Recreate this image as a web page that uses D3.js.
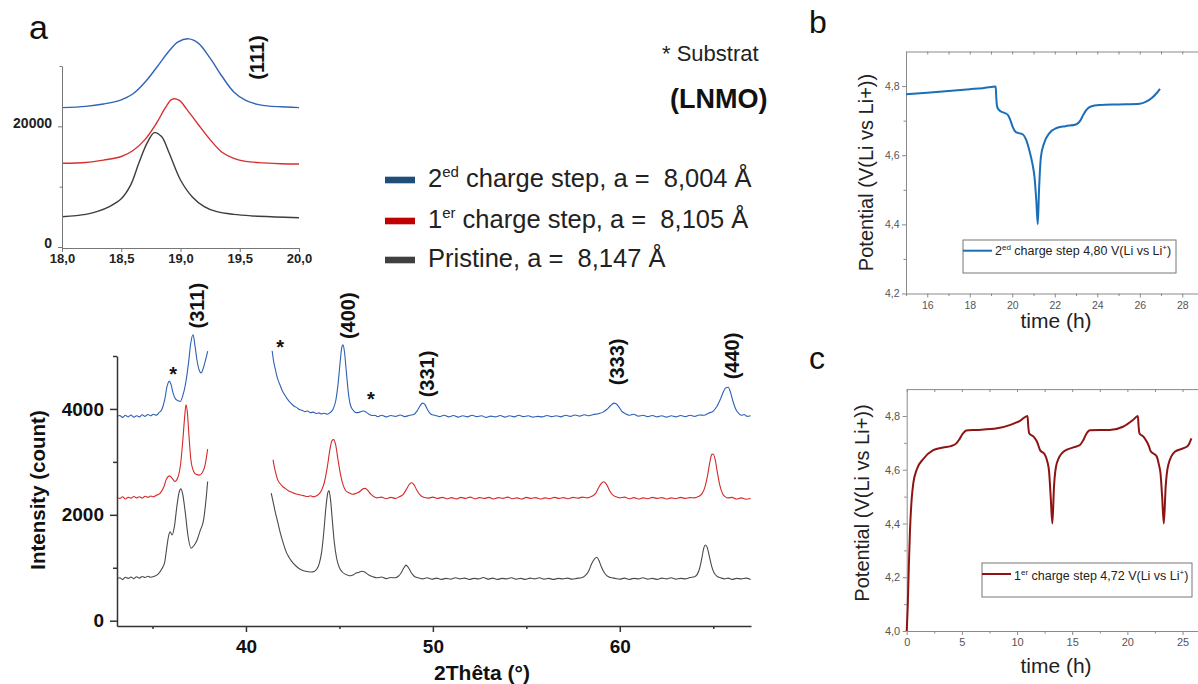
<!DOCTYPE html>
<html><head><meta charset="utf-8">
<script src="https://cdn.jsdelivr.net/npm/d3@7/dist/d3.min.js"></script>
<style>
html,body{margin:0;padding:0;background:#fff;}
svg{display:block;}
text{font-family:"Liberation Sans",Arial,Helvetica,sans-serif;}
</style></head><body>
<svg id="fig" width="1198" height="684"></svg>
<script>
// ================= DATA =================
// Inset (111) peak : [2theta, intensity]
const insetBlue = [[18.0,23100],[18.2,23300],[18.35,23700],[18.5,24400],[18.6,25400],[18.7,27300],[18.8,29800],[18.9,32400],[18.98,34000],[19.07,34500],[19.15,33800],[19.25,31300],[19.35,28300],[19.45,25700],[19.55,24300],[19.65,23650],[19.75,23350],[19.9,23200],[20.0,23100]];
const insetRed = [[18.0,13880],[18.2,14000],[18.35,14400],[18.5,15000],[18.6,16000],[18.7,17800],[18.8,20600],[18.87,23000],[18.93,24500],[18.99,24300],[19.05,22900],[19.15,20300],[19.25,17800],[19.35,15700],[19.45,14700],[19.55,14200],[19.7,13950],[19.85,13800],[20.0,13760]];
const insetBlack = [[18.0,5020],[18.2,5400],[18.3,5900],[18.4,6700],[18.5,8000],[18.58,10300],[18.65,14000],[18.72,17300],[18.78,18950],[18.84,18300],[18.9,15800],[19.0,11100],[19.1,8300],[19.2,6700],[19.3,5900],[19.45,5400],[19.6,5150],[19.8,4980],[20.0,4860]];

// Main pattern, left segment (before gap) and right segment
const blueL = [[33.1,3850],[33.25,3875],[33.4,3840],[33.55,3880],[33.7,3850],[33.85,3885],[34.0,3845],[34.15,3870],[34.3,3850],[34.45,3890],[34.6,3860],[34.75,3895],[34.9,3870],[35.05,3900],[35.2,3880],[35.35,3930],[35.5,3990],[35.65,4170],[35.78,4430],[35.9,4520],[36.0,4450],[36.1,4300],[36.25,4180],[36.35,4160],[36.48,4140],[36.62,4250],[36.78,4500],[36.92,4850],[37.05,5250],[37.17,5400],[37.27,5200],[37.38,4920],[37.5,4730],[37.6,4680],[37.7,4750],[37.82,4900],[37.95,5090]];
const blueR = [[41.4,5100],[41.48,4900],[41.57,4750],[41.66,4610],[41.8,4470],[41.95,4340],[42.1,4250],[42.25,4170],[42.4,4110],[42.55,4060],[42.7,4030],[42.85,3990],[43.0,3975],[43.15,3950],[43.3,3960],[43.45,3930],[43.6,3940],[43.75,3915],[43.9,3925],[44.05,3905],[44.2,3920],[44.35,3900],[44.5,3930],[44.65,3990],[44.8,4150],[44.92,4450],[45.03,4850],[45.12,5150],[45.19,5210],[45.27,5080],[45.37,4700],[45.48,4300],[45.6,4060],[45.75,3970],[45.9,3930],[46.05,3935],[46.2,3955],[46.3,3960],[46.45,3935],[46.6,3895],[46.75,3875],[46.9,3880],[47.05,3855],[47.25,3880],[47.5,3850],[47.75,3875],[48.0,3860],[48.25,3885],[48.5,3855],[48.75,3880],[49.0,3900],[49.15,3960],[49.3,4050],[49.45,4110],[49.58,4080],[49.72,3980],[49.9,3900],[50.1,3880],[50.35,3855],[50.6,3880],[50.85,3850],[51.1,3875],[51.35,3845],[51.6,3870],[51.85,3850],[52.1,3880],[52.35,3855],[52.6,3870],[52.85,3840],[53.1,3865],[53.35,3850],[53.6,3875],[53.85,3845],[54.1,3870],[54.35,3850],[54.6,3880],[54.85,3855],[55.1,3870],[55.35,3845],[55.6,3860],[55.85,3850],[56.1,3875],[56.35,3855],[56.6,3870],[56.85,3850],[57.1,3880],[57.35,3860],[57.6,3885],[57.85,3865],[58.1,3890],[58.35,3870],[58.6,3895],[58.85,3910],[59.1,3940],[59.3,3990],[59.5,4060],[59.68,4110],[59.8,4100],[59.95,4040],[60.1,3960],[60.3,3910],[60.5,3880],[60.75,3900],[61.0,3865],[61.25,3880],[61.5,3855],[61.75,3875],[62.0,3850],[62.25,3870],[62.5,3845],[62.75,3870],[63.0,3850],[63.25,3875],[63.5,3855],[63.75,3880],[64.0,3860],[64.25,3885],[64.5,3880],[64.75,3920],[65.0,3960],[65.2,4050],[65.4,4200],[65.55,4330],[65.68,4400],[65.8,4410],[65.92,4320],[66.05,4150],[66.2,4000],[66.35,3920],[66.5,3880],[66.65,3895],[66.8,3860],[67.0,3870]];

const redL = [[33.1,2330],[33.25,2310],[33.4,2340],[33.55,2300],[33.7,2330],[33.85,2315],[34.0,2345],[34.15,2320],[34.3,2340],[34.45,2315],[34.6,2350],[34.75,2330],[34.9,2355],[35.05,2340],[35.2,2370],[35.35,2390],[35.45,2430],[35.6,2520],[35.75,2680],[35.92,2735],[36.05,2690],[36.2,2630],[36.35,2700],[36.5,2950],[36.62,3400],[36.72,3850],[36.79,4080],[36.86,3950],[36.95,3500],[37.05,3050],[37.2,2820],[37.35,2760],[37.5,2750],[37.65,2790],[37.8,2920],[37.95,3240]];
const redR = [[41.45,3040],[41.52,2900],[41.6,2780],[41.7,2660],[41.8,2600],[41.95,2540],[42.1,2500],[42.25,2460],[42.4,2435],[42.55,2410],[42.7,2395],[42.85,2380],[43.0,2370],[43.15,2355],[43.3,2345],[43.45,2360],[43.6,2340],[43.75,2355],[43.9,2390],[44.05,2470],[44.2,2620],[44.35,2900],[44.5,3250],[44.6,3400],[44.69,3420],[44.8,3320],[44.92,3050],[45.05,2780],[45.2,2560],[45.35,2450],[45.55,2410],[45.7,2390],[45.85,2400],[46.0,2420],[46.15,2460],[46.28,2495],[46.38,2500],[46.52,2460],[46.68,2390],[46.85,2340],[47.0,2320],[47.25,2335],[47.5,2305],[47.75,2330],[48.0,2310],[48.2,2340],[48.4,2380],[48.58,2480],[48.75,2580],[48.88,2605],[49.0,2560],[49.15,2460],[49.3,2380],[49.5,2330],[49.75,2315],[50.0,2335],[50.25,2310],[50.5,2330],[50.75,2305],[51.0,2325],[51.25,2300],[51.5,2330],[51.75,2310],[52.0,2335],[52.25,2305],[52.5,2325],[52.75,2310],[53.0,2330],[53.25,2300],[53.5,2325],[53.75,2310],[54.0,2335],[54.25,2305],[54.5,2320],[54.75,2300],[55.0,2330],[55.25,2310],[55.5,2325],[55.75,2300],[56.0,2320],[56.25,2305],[56.5,2330],[56.75,2310],[57.0,2325],[57.25,2305],[57.5,2330],[57.75,2315],[58.0,2335],[58.25,2320],[58.5,2350],[58.7,2400],[58.85,2500],[59.0,2590],[59.15,2625],[59.3,2570],[59.45,2460],[59.6,2380],[59.8,2340],[60.0,2320],[60.25,2335],[60.5,2305],[60.75,2325],[61.0,2300],[61.25,2320],[61.5,2305],[61.75,2330],[62.0,2310],[62.25,2325],[62.5,2300],[62.75,2320],[63.0,2305],[63.25,2330],[63.5,2310],[63.75,2325],[64.0,2320],[64.2,2345],[64.4,2400],[64.55,2520],[64.7,2750],[64.82,3000],[64.92,3140],[65.0,3150],[65.1,3050],[65.22,2800],[65.35,2560],[65.5,2400],[65.65,2340],[65.8,2320],[66.0,2330],[66.25,2300],[66.5,2320],[66.75,2295],[67.0,2310]];

const blackL = [[33.1,790],[33.25,810],[33.4,780],[33.55,820],[33.7,800],[33.85,825],[34.0,795],[34.15,830],[34.3,805],[34.45,835],[34.6,815],[34.75,840],[34.9,820],[35.1,840],[35.3,880],[35.5,980],[35.65,1100],[35.77,1400],[35.86,1600],[35.94,1680],[36.05,1620],[36.18,1800],[36.3,2150],[36.42,2420],[36.52,2490],[36.62,2380],[36.75,2050],[36.9,1600],[37.06,1370],[37.22,1420],[37.38,1520],[37.55,1700],[37.74,1920],[37.88,2350],[37.95,2630]];
const blackR = [[41.35,2410],[41.45,2250],[41.55,2080],[41.7,1860],[41.85,1640],[42.0,1460],[42.15,1300],[42.3,1200],[42.45,1120],[42.6,1060],[42.75,1010],[42.9,970],[43.05,950],[43.2,935],[43.35,925],[43.5,920],[43.65,930],[43.8,980],[43.92,1080],[44.05,1300],[44.17,1700],[44.28,2150],[44.38,2420],[44.44,2460],[44.52,2300],[44.62,1900],[44.72,1500],[44.85,1180],[45.0,1000],[45.15,920],[45.3,880],[45.45,860],[45.6,850],[45.75,870],[45.9,900],[46.05,915],[46.2,935],[46.35,920],[46.5,880],[46.65,850],[46.8,830],[47.0,810],[47.25,825],[47.5,795],[47.75,815],[48.0,810],[48.15,840],[48.3,900],[48.45,1000],[48.56,1050],[48.68,1010],[48.82,920],[49.0,840],[49.2,810],[49.45,790],[49.7,810],[49.95,785],[50.2,805],[50.45,780],[50.7,800],[50.95,785],[51.2,810],[51.45,790],[51.7,805],[51.95,780],[52.2,800],[52.45,790],[52.7,815],[52.95,785],[53.2,805],[53.45,780],[53.7,800],[53.95,790],[54.2,810],[54.45,785],[54.7,800],[54.95,780],[55.2,805],[55.45,790],[55.7,810],[55.95,785],[56.2,800],[56.45,780],[56.7,800],[56.95,790],[57.2,805],[57.45,785],[57.7,800],[57.95,810],[58.15,850],[58.35,950],[58.5,1080],[58.65,1170],[58.77,1200],[58.88,1140],[59.0,1030],[59.15,920],[59.3,850],[59.5,815],[59.75,800],[60.0,785],[60.25,805],[60.5,780],[60.75,800],[61.0,790],[61.25,810],[61.5,785],[61.75,800],[62.0,780],[62.25,805],[62.5,790],[62.75,810],[63.0,785],[63.25,800],[63.5,790],[63.75,815],[64.0,830],[64.15,880],[64.28,1000],[64.4,1200],[64.5,1380],[64.58,1430],[64.68,1380],[64.8,1200],[64.92,1020],[65.05,900],[65.2,840],[65.4,810],[65.6,790],[65.8,805],[66.0,780],[66.25,800],[66.5,790],[66.75,805],[67.0,780]];

// Tick values / labels
const mainXTicks = [40, 50, 60];
const mainXMinor = [35, 45, 55, 65];
const mainYTicks = [0, 2000, 4000];
const mainYMinor = [1000, 3000, 5000];
const insetXTicks = [18, 18.5, 19, 19.5, 20];
const insetXLabels = ["18,0", "18,5", "19,0", "19,5", "20,0"];
const insetYTicks = [0, 20000];
const insetYMinor = [10000, 30000];

// Peak annotations (hkl) anchored in data units [2theta, intensity]
const hklLabels = ["(311)", "(400)", "(331)", "(333)", "(440)"];
const hklAnchors = [[37.42, 5950], [45.52, 5760], [49.75, 4660], [59.9, 4890], [66.08, 5000]];
const starAnchors = [[36.1, 4736], [41.83, 5251], [46.68, 4263]];

// Legend of panel a
const legendSeries = [
  {base: "2", sup: "ed", rest: " charge step, a =\u00a0\u00a08,004 Å", color: "#1f4e79"},
  {base: "1", sup: "er", rest: " charge step, a =\u00a0\u00a08,105 Å", color: "#c00000"},
  {base: "Pristine, a =\u00a0\u00a08,147 Å", sup: "", rest: "", color: "#404040"}
];

// Panel b : 2nd charge step, [time h, potential V]
const bData = [[15,4.776],[16,4.781],[17,4.786],[18,4.791],[18.6,4.794],[19.0,4.797],[19.22,4.799],[19.25,4.765],[19.3,4.738],[19.45,4.727],[19.65,4.722],[19.8,4.716],[19.92,4.700],[20.02,4.682],[20.15,4.668],[20.3,4.664],[20.5,4.660],[20.65,4.645],[20.8,4.615],[20.95,4.575],[21.05,4.535],[21.13,4.47],[21.2,4.4],[21.26,4.5],[21.35,4.596],[21.5,4.635],[21.75,4.664],[22.06,4.678],[22.5,4.684],[23.0,4.689],[23.2,4.700],[23.35,4.718],[23.5,4.732],[23.7,4.741],[24.1,4.745],[25.0,4.747],[26.0,4.749],[26.3,4.755],[26.55,4.765],[26.8,4.780],[26.95,4.792]];
const bXTicks = [16, 18, 20, 22, 24, 26, 28];
const bXMinor = [15, 17, 19, 21, 23, 25, 27];
const bYTicks = [4.2, 4.4, 4.6, 4.8];
const bYMinor = [4.3, 4.5, 4.7];

// Panel c : 1st charge step
const cData = [[0,4.0],[0.1,4.1],[0.2,4.25],[0.3,4.376],[0.45,4.49],[0.6,4.55],[0.9,4.6],[1.5,4.64],[2.4,4.673],[3.3,4.683],[4.0,4.688],[4.5,4.698],[4.8,4.715],[5.1,4.735],[5.4,4.746],[6.3,4.748],[8.2,4.754],[9.4,4.767],[10.3,4.783],[10.95,4.8],[11.02,4.76],[11.1,4.736],[11.5,4.723],[11.8,4.705],[11.95,4.688],[12.1,4.672],[12.5,4.658],[12.75,4.63],[12.9,4.595],[13.05,4.5],[13.2,4.4],[13.35,4.537],[13.6,4.624],[14.2,4.667],[15.1,4.683],[15.7,4.692],[16.0,4.71],[16.3,4.735],[16.6,4.747],[18.4,4.748],[19.6,4.76],[20.5,4.785],[20.95,4.8],[21.02,4.76],[21.1,4.735],[21.45,4.723],[21.75,4.705],[21.95,4.688],[22.1,4.67],[22.65,4.65],[22.85,4.62],[23.0,4.587],[23.15,4.5],[23.3,4.4],[23.47,4.537],[23.7,4.617],[24.3,4.667],[25.1,4.68],[25.5,4.69],[25.8,4.717]];
const cXTicks = [0, 5, 10, 15, 20, 25];
const cXMinor = [2.5, 7.5, 12.5, 17.5, 22.5];
const cYTicks = [4.0, 4.2, 4.4, 4.6, 4.8];
const cYMinor = [4.1, 4.3, 4.5, 4.7];

// ================= DRAWING =================
const FONT = '"Liberation Sans", Arial, sans-serif';
const svg = d3.select('#fig');
svg.append('rect').attr('width', 1198).attr('height', 684).attr('fill', '#fff');
const comma = d => d.toFixed(1).replace('.', ',');

function styleAxis(g, stroke, sw, fs, weight, fill) {
  g.attr('font-family', FONT);
  g.selectAll('path.domain').attr('stroke', stroke).attr('stroke-width', sw);
  g.selectAll('.tick line').attr('stroke', stroke).attr('stroke-width', sw);
  g.selectAll('.tick text').attr('font-size', fs).attr('font-weight', weight).attr('fill', fill).attr('font-family', FONT);
}

// ---------- Panel a : main XRD ----------
const xM = d3.scaleLinear().domain([33.1, 67.02]).range([117, 751]);
const yM = d3.scaleLinear().domain([-100, 5000]).range([626, 356]);
const lineM = d3.line().x(d => xM(d[0])).y(d => yM(d[1])).curve(d3.curveMonotoneX);

const mainSeries = [
  {segs: [blackL, blackR], color: "#4a4a4a"},
  {segs: [redL, redR], color: "#d42a2a"},
  {segs: [blueL, blueR], color: "#2e60b5"}
];
mainSeries.forEach(s => s.segs.forEach(seg => {
  svg.append('path').datum(seg).attr('d', lineM).attr('fill', 'none')
    .attr('stroke', s.color).attr('stroke-width', 1.1).attr('stroke-linejoin', 'round');
}));

const gxM = svg.append('g').attr('transform', 'translate(0,626)')
  .call(d3.axisBottom(xM).tickValues(mainXTicks).tickSize(6).tickPadding(8).tickSizeOuter(0).tickFormat(d => String(d)));
styleAxis(gxM, '#333', 1.5, 19, 'bold', '#111');
const gxMm = svg.append('g').attr('transform', 'translate(0,626)')
  .call(d3.axisBottom(xM).tickValues(mainXMinor).tickSize(3).tickFormat(''));
gxMm.select('.domain').remove();
styleAxis(gxMm, '#333', 1.5, 19, 'bold', '#111');

const gyM = svg.append('g').attr('transform', 'translate(117,0)')
  .call(d3.axisLeft(yM).tickValues(mainYTicks).tickSize(7).tickPadding(6).tickSizeOuter(0).tickFormat(d3.format('d')));
styleAxis(gyM, '#333', 1.5, 19, 'bold', '#111');
const gyMm = svg.append('g').attr('transform', 'translate(117,0)')
  .call(d3.axisLeft(yM).tickValues(mainYMinor).tickSize(4).tickFormat(''));
gyMm.select('.domain').remove();
styleAxis(gyMm, '#333', 1.5, 19, 'bold', '#111');

svg.append('text').attr('transform', 'translate(45,490) rotate(-90)').attr('text-anchor', 'middle')
  .attr('font-size', 20.5).attr('font-weight', 'bold').attr('fill', '#111').text('Intensity (count)');
svg.append('text').attr('x', 482).attr('y', 680).attr('text-anchor', 'middle')
  .attr('font-size', 21).attr('font-weight', 'bold').attr('fill', '#111').text('2Thêta (°)');

hklLabels.forEach((t, i) => {
  const a = hklAnchors[i];
  svg.append('text').attr('transform', `translate(${xM(a[0])},${yM(a[1])}) rotate(-90)`)
    .attr('text-anchor', 'middle').attr('dy', '0.3em')
    .attr('font-size', 20).attr('font-weight', 'bold').attr('fill', '#111').text(t);
});
starAnchors.forEach(a => {
  svg.append('text').attr('x', xM(a[0])).attr('y', yM(a[1]) + 11).attr('text-anchor', 'middle')
    .attr('font-size', 20).attr('font-weight', 'bold').attr('fill', '#111').text('*');
});

// ---------- Inset ----------
const xI = d3.scaleLinear().domain([18, 20]).range([62, 299]);
const yI = d3.scaleLinear().domain([-166, 30000]).range([248, 66]);
const lineI = d3.line().x(d => xI(d[0])).y(d => yI(d[1])).curve(d3.curveCatmullRom.alpha(0.5));
[[insetBlack, "#3d3d3d"], [insetRed, "#d63030"], [insetBlue, "#2f64b8"]].forEach(([d, c]) => {
  svg.append('path').datum(d).attr('d', lineI).attr('fill', 'none').attr('stroke', c).attr('stroke-width', 1.4);
});
const gxI = svg.append('g').attr('transform', 'translate(0,248)')
  .call(d3.axisBottom(xI).tickValues(insetXTicks).tickSize(4).tickPadding(2).tickSizeOuter(0)
    .tickFormat((d, i) => insetXLabels[i]));
styleAxis(gxI, '#777', 1, 13, 'bold', '#222');
const gyI = svg.append('g').attr('transform', 'translate(62,0)')
  .call(d3.axisLeft(yI).tickValues(insetYTicks).tickSize(4).tickPadding(6).tickSizeOuter(0).tickFormat(d3.format('d')));
styleAxis(gyI, '#777', 1, 14, 'bold', '#222');
gyI.selectAll('.tick text').attr('dy', '0.05em');
const gyIm = svg.append('g').attr('transform', 'translate(62,0)')
  .call(d3.axisLeft(yI).tickValues(insetYMinor).tickSize(2.5).tickFormat(''));
gyIm.select('.domain').remove();
styleAxis(gyIm, '#777', 1, 14, 'bold', '#222');

svg.append('text').attr('transform', `translate(257.5,57.5) rotate(-90)`).attr('text-anchor', 'middle').attr('dy', '0.3em')
  .attr('font-size', 20).attr('font-weight', 'bold').attr('fill', '#111').text('(111)');

// Panel letter + notes
svg.append('text').attr('x', 29).attr('y', 39).attr('font-family', 'Lato, "Open Sans", sans-serif')
  .attr('font-size', 34).attr('fill', '#111').text('a');
svg.append('text').attr('x', 662).attr('y', 61).attr('font-size', 22).attr('fill', '#222').text('* Substrat');
svg.append('text').attr('x', 670).attr('y', 108).attr('font-size', 27).attr('font-weight', 'bold').attr('fill', '#111').text('(LNMO)');

// Legend a
const legY = [180, 221, 260];
legendSeries.forEach((s, i) => {
  svg.append('rect').attr('x', 385).attr('y', legY[i] - 3.3).attr('width', 30).attr('height', 6.6).attr('fill', s.color);
  const t = svg.append('text').attr('x', 428).attr('y', legY[i] + 7).attr('font-size', 25.5).attr('fill', '#222')
    .style('white-space', 'pre');
  t.append('tspan').text(s.base);
  if (s.sup) {
    t.append('tspan').attr('dy', -10).attr('font-size', 15).text(s.sup);
    t.append('tspan').attr('dy', 10).text(s.rest);
  }
});

// ---------- Panel b / c helper ----------
function drawPotential(cfg) {
  const x = d3.scaleLinear().domain(cfg.xd).range(cfg.xr);
  const y = d3.scaleLinear().domain(cfg.yd).range(cfg.yr);
  const axisCol = '#8a8a8a';
  const allTop = cfg.xt.concat(cfg.xm);
  const gt = svg.append('g').attr('transform', `translate(0,${cfg.yr[1]})`)
    .call(d3.axisTop(x).tickValues(allTop).tickSize(-3).tickSizeOuter(0).tickFormat(''));
  styleAxis(gt, axisCol, 1, 10, 'normal', '#555');
  const gb = svg.append('g').attr('transform', `translate(0,${cfg.yr[0]})`)
    .call(d3.axisBottom(x).tickValues(cfg.xt).tickSize(4).tickPadding(cfg.xpad).tickSizeOuter(0).tickFormat(d => String(d)));
  styleAxis(gb, axisCol, 1, cfg.fs, 'normal', '#555');
  const gbm = svg.append('g').attr('transform', `translate(0,${cfg.yr[0]})`)
    .call(d3.axisBottom(x).tickValues(cfg.xm).tickSize(2.5).tickFormat(''));
  gbm.select('.domain').remove();
  styleAxis(gbm, axisCol, 1, cfg.fs, 'normal', '#555');
  const gl = svg.append('g').attr('transform', `translate(${cfg.xr[0]},0)`)
    .call(d3.axisLeft(y).tickValues(cfg.yt).tickSize(4).tickPadding(2.5).tickSizeOuter(0).tickFormat(comma));
  styleAxis(gl, axisCol, 1, cfg.fs, 'normal', '#555');
  const glm = svg.append('g').attr('transform', `translate(${cfg.xr[0]},0)`)
    .call(d3.axisLeft(y).tickValues(cfg.ym).tickSize(2.5).tickFormat(''));
  glm.select('.domain').remove();
  styleAxis(glm, axisCol, 1, cfg.fs, 'normal', '#555');
  const ln = d3.line().x(d => x(d[0])).y(d => y(d[1])).curve(d3.curveMonotoneX);
  svg.append('path').datum(cfg.data).attr('d', ln).attr('fill', 'none').attr('stroke', cfg.color)
    .attr('stroke-width', 2).attr('stroke-linejoin', 'round');
  const L = cfg.leg;
  svg.append('rect').attr('x', L.x).attr('y', L.y).attr('width', L.w).attr('height', L.h)
    .attr('fill', '#fff').attr('stroke', '#777').attr('stroke-width', 1);
  svg.append('line').attr('x1', L.x).attr('x2', L.x + 29).attr('y1', L.ly).attr('y2', L.ly)
    .attr('stroke', cfg.color).attr('stroke-width', 2);
  const t = svg.append('text').attr('x', L.x + 32).attr('y', L.tb).attr('font-size', 12.5).attr('fill', '#222');
  t.append('tspan').text(L.parts[0]);
  t.append('tspan').attr('dy', -5).attr('font-size', 8).text(L.parts[1]);
  t.append('tspan').attr('dy', 5).text(L.parts[2]);
  t.append('tspan').attr('dy', -5).attr('font-size', 8).text('+');
  t.append('tspan').attr('dy', 5).text(')');
  svg.append('text').attr('transform', `translate(${cfg.ylx},${cfg.ylc}) rotate(-90)`).attr('text-anchor', 'middle')
    .attr('font-size', 20).attr('fill', '#222').text('Potential (V(Li vs Li+))');
  svg.append('text').attr('x', 1056).attr('y', cfg.xlb).attr('text-anchor', 'middle')
    .attr('font-size', 21).attr('fill', '#222').text('time (h)');
  svg.append('text').attr('x', 809).attr('y', cfg.letterY).attr('font-family', 'Lato, "Open Sans", sans-serif')
    .attr('font-size', 32).attr('fill', '#111').text(cfg.letter);
}

drawPotential({
  xd: [15, 28.74], xr: [906, 1198], yd: [4.2, 4.9], yr: [293.5, 51.5],
  xt: bXTicks, xm: bXMinor, yt: bYTicks, ym: bYMinor, xpad: 4, fs: 10.5,
  data: bData, color: '#1b6fb8',
  leg: {x: 963, y: 240, w: 213, h: 33, ly: 250.7, tb: 254.5, parts: ["2", "ed", " charge step 4,80 V(Li vs Li"]},
  ylx: 873, ylc: 172.5, xlb: 328, letter: 'b', letterY: 33
});
drawPotential({
  xd: [0, 26.4], xr: [906.7, 1198], yd: [4.0, 4.9], yr: [631, 389.1],
  xt: cXTicks, xm: cXMinor, yt: cYTicks, ym: cYMinor, xpad: 3.5, fs: 11,
  data: cData, color: '#8e1414',
  leg: {x: 982, y: 563, w: 210, h: 34, ly: 574, tb: 579.5, parts: ["1", "er", " charge step 4,72 V(Li vs Li"]},
  ylx: 869, ylc: 503, xlb: 673, letter: 'c', letterY: 369
});
</script></body></html>
